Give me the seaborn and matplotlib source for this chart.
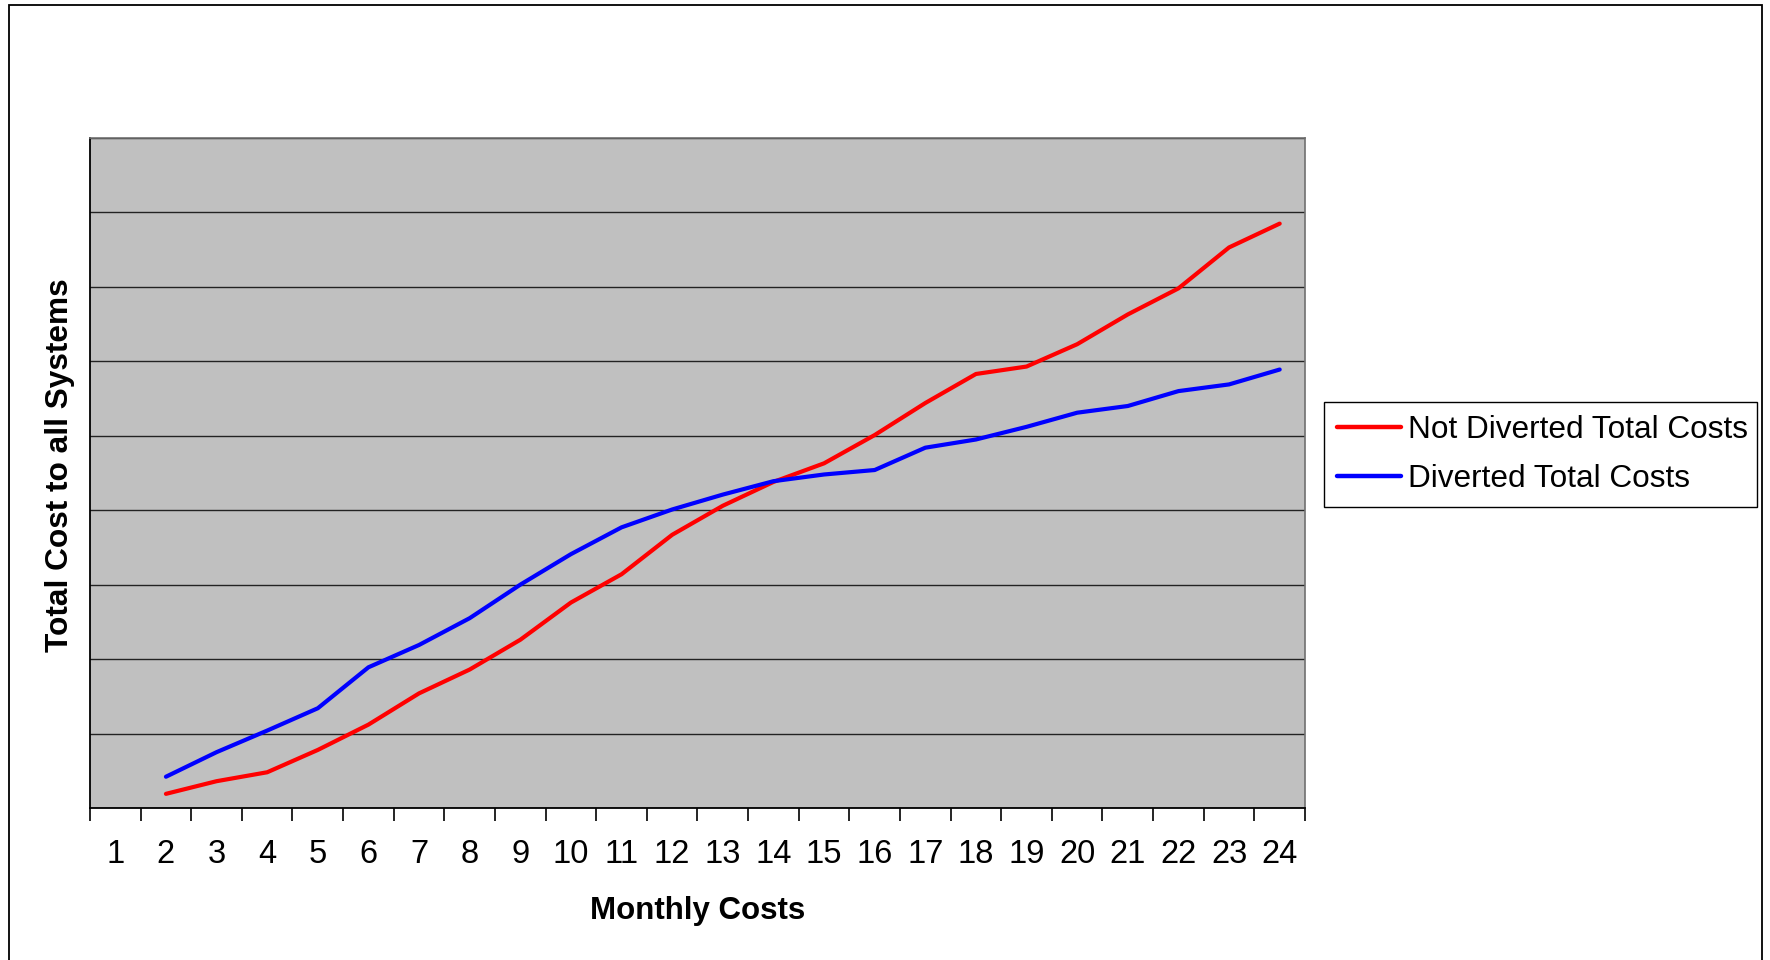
import matplotlib
matplotlib.use("Agg")
import matplotlib.pyplot as plt
import numpy as np
import pandas as pd
import seaborn as sns
from matplotlib.patches import Rectangle
from matplotlib.ticker import FixedLocator

MONTHS = list(range(2, 25))
MONTH_LABELS = [str(m) for m in range(1, 25)]
NOT_DIVERTED = [0.19, 0.36, 0.48, 0.78, 1.12, 1.54, 1.86, 2.26, 2.76, 3.14, 3.67,
                4.06, 4.38, 4.63, 5.01, 5.44, 5.83, 5.93, 6.23, 6.63, 6.98, 7.53, 7.85]
DIVERTED = [0.42, 0.75, 1.04, 1.34, 1.89, 2.19, 2.55, 3.00, 3.41, 3.77, 4.01,
            4.21, 4.39, 4.48, 4.54, 4.84, 4.95, 5.12, 5.31, 5.40, 5.60, 5.69, 5.89]
SERIES = ["Not Diverted Total Costs", "Diverted Total Costs"]
COLORS = ["#FF0000", "#0000FF"]

df = pd.DataFrame({
    "month": MONTHS * 2,
    "cost": NOT_DIVERTED + DIVERTED,
    "series": [SERIES[0]] * len(MONTHS) + [SERIES[1]] * len(MONTHS),
})

sns.set_style("white")
plt.rcParams["font.family"] = ["Liberation Sans", "DejaVu Sans"]
plt.rcParams["text.color"] = "black"
plt.rcParams["axes.labelcolor"] = "black"
plt.rcParams["xtick.color"] = "black"
plt.rcParams["ytick.color"] = "black"

fig = plt.figure(figsize=(17.7, 9.6), dpi=100)
ax = fig.add_axes([90 / 1770, 1 - 808 / 960, 1215 / 1770, 670 / 960])
ax.set_facecolor("#C0C0C0")

sns.lineplot(data=df, x="month", y="cost", hue="series", palette=COLORS,
             linewidth=3, ax=ax, legend=True)

ax.set_xlim(0.5, 24.5)
ax.set_ylim(0, 9)
ax.set_xticks(range(1, 25))
ax.set_xticklabels(MONTH_LABELS, fontsize=23.5)
ax.xaxis.set_minor_locator(FixedLocator(np.arange(0.5, 25, 1)))
ax.tick_params(axis="x", which="major", bottom=True, length=0, pad=22)
ax.tick_params(axis="x", which="minor", bottom=True, length=9, width=1.2,
               color="black", direction="out")
ax.set_yticks(range(0, 10))
ax.set_yticklabels([])
ax.tick_params(axis="y", length=0)
ax.grid(axis="y", color="#222222", linewidth=1)
ax.grid(axis="x", visible=False)

for side in ["left", "bottom"]:
    ax.spines[side].set_color("black")
    ax.spines[side].set_linewidth(1.3)
for side in ["top", "right"]:
    ax.spines[side].set_color("#707070")
    ax.spines[side].set_linewidth(1.2)

ax.set_xlabel("Monthly Costs", fontsize=22.5, fontweight="bold")
ax.set_ylabel("Total Cost to all Systems", fontsize=22.8, fontweight="bold")
ax.xaxis.set_label_coords(0.5, -0.131)
ax.yaxis.set_label_coords(-0.012, 0.512)

handles, labels = ax.get_legend_handles_labels()
leg = ax.legend(handles, labels, loc="lower left",
                bbox_to_anchor=(1324 / 1770, 1 - 507 / 960, (1757 - 1324) / 1770, 102 / 960),
                bbox_transform=fig.transFigure, mode="expand",
                fontsize=22.7, frameon=True, fancybox=False, framealpha=1,
                edgecolor="black", handlelength=2.05, handletextpad=0.2,
                borderpad=0.4, labelspacing=0.62, borderaxespad=0)
leg.get_frame().set_linewidth(1)
for line in leg.get_lines():
    line.set_linewidth(3.2)

fig.patches.append(Rectangle((9 / 1770, -0.05), (1762 - 9) / 1770, 1.05 - 5 / 960,
                             transform=fig.transFigure, fill=False,
                             edgecolor="black", linewidth=1.3))

plt.savefig("out.png", dpi=100)
plt.close()
